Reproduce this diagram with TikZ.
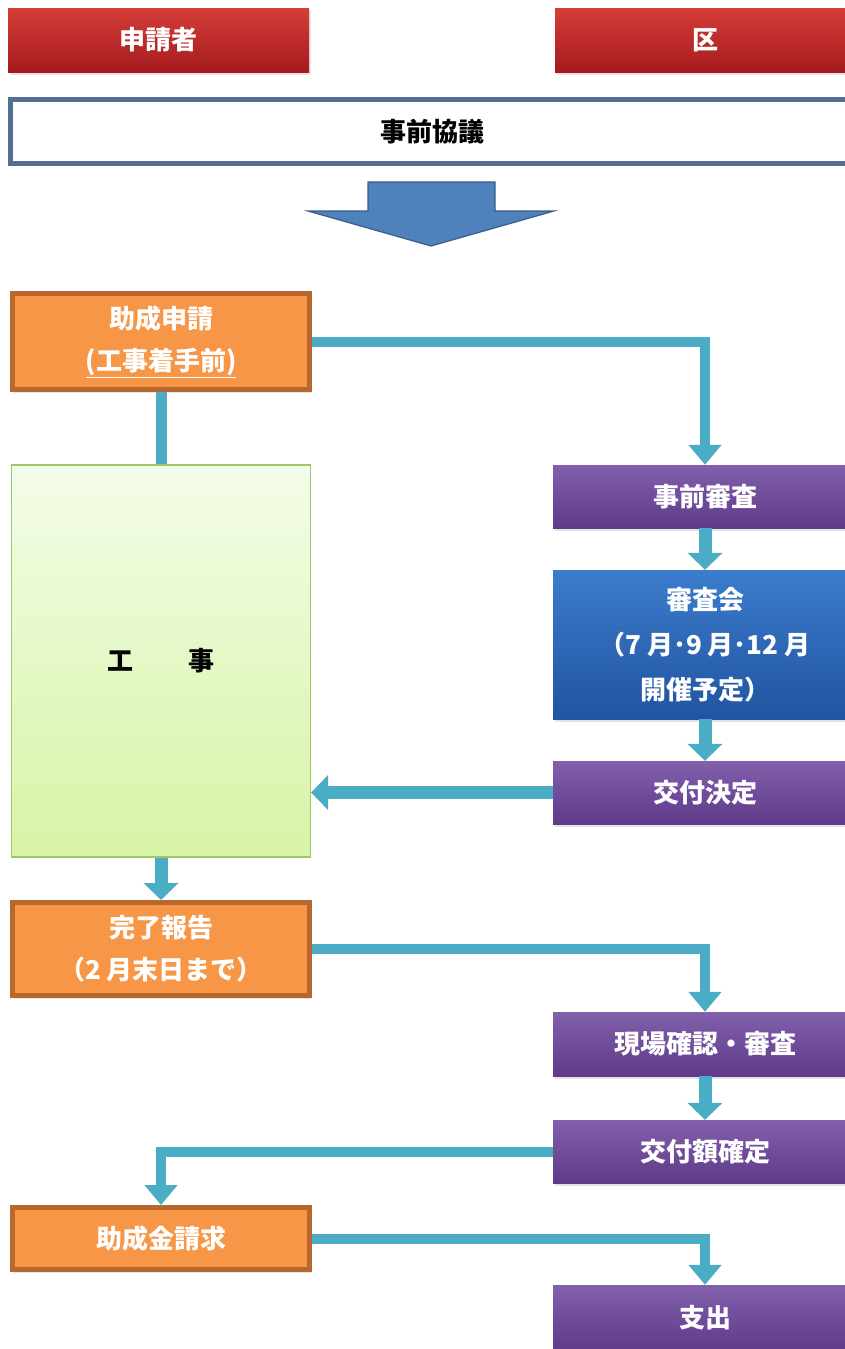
\documentclass[tikz,border=0pt]{standalone}
\usepackage{fontspec}
\setmainfont{Noto Sans CJK JP}
\usetikzlibrary{arrows.meta,shadows}
\definecolor{redtop}{RGB}{212,62,56}
\definecolor{redbot}{RGB}{165,26,30}
\definecolor{orangefill}{RGB}{247,150,70}
\definecolor{orangeline}{RGB}{184,104,44}
\definecolor{purtop}{RGB}{130,96,172}
\definecolor{purbot}{RGB}{94,58,136}
\definecolor{bluetop}{RGB}{60,124,204}
\definecolor{bluebot}{RGB}{32,84,160}
\definecolor{greentop}{RGB}{244,252,232}
\definecolor{greenbot}{RGB}{214,244,166}
\definecolor{greenline}{RGB}{160,198,106}
\definecolor{conncol}{RGB}{75,172,198}
\definecolor{kyogiline}{RGB}{82,112,148}
\definecolor{bigfill}{RGB}{79,129,189}
\definecolor{bigline}{RGB}{56,93,138}
\tikzset{
  shad/.style={drop shadow={shadow xshift=1.5pt,shadow yshift=-3pt,opacity=0.22}},
  lbl/.style={font=\bfseries\fontsize{26}{42}\selectfont, text=white, align=center, inner sep=0pt},
  redbox/.style={lbl, shad, top color=redtop, bottom color=redbot, minimum height=64pt},
  kyogibox/.style={lbl, text=black, draw=kyogiline, line width=5pt, fill=white, minimum height=64pt, minimum width=843pt},
  orangebox/.style={lbl, shad, fill=orangefill, draw=orangeline, line width=5pt, minimum width=297pt},
  greenbox/.style={lbl, text=black, top color=greentop, bottom color=greenbot, draw=greenline, line width=1.2pt, minimum width=299pt, minimum height=392pt},
  purbox/.style={lbl, shad, top color=purtop, bottom color=purbot, minimum width=304pt},
  bluebox/.style={lbl, shad, top color=bluetop, bottom color=bluebot, minimum width=304pt},
  conn/.style={draw=conncol, line width=10pt, -{Triangle[width=32pt,length=20pt]}},
  linkline/.style={draw=conncol, line width=11pt},
  shortarr/.style={draw=conncol, line width=13pt, -{Triangle[width=34pt,length=17pt]}},
}
\begin{document}
\begin{tikzpicture}[x=1pt,y=-1pt]
\clip (0,0) rectangle (845,1349);
\fill[white] (0,0) rectangle (845,1349);
% header
\node[redbox, minimum width=301pt] (applicant) at (158.5,40) {申請者};
\node[redbox, minimum width=300pt] (ku) at (705,40) {区};
\node[kyogibox] (kyogi) at (432,131.5) {事前協議};
% big arrow
\filldraw[fill=bigfill, draw=bigline, line width=1.2pt, line join=miter]
  (368,182) -- (495,182) -- (495,211) -- (554,211) -- (431,246) -- (308,211) -- (368,211) -- cycle;
% left column
\node[orangebox, minimum height=96pt] (josei) at (161,341.5) {助成申請\\\underline{(工事着手前)}};
\node[greenbox] (kouji) at (161,661) {工\hspace{2.1em}事};
\node[orangebox, minimum height=93pt] (kanryo) at (161,949) {完了報告\\（2 月末日まで）};
\node[orangebox, minimum height=62pt] (seikyu) at (161,1238.5) {助成金請求};
% right column
\node[purbox, minimum height=63pt] (jizen) at (705,496.5) {事前審査};
\node[bluebox, minimum height=149pt, font=\bfseries\fontsize{26}{45}\selectfont] (shinsakai) at (705,644.5) {審査会\\（7 月･9 月･12 月\\開催予定）};
\node[purbox, minimum height=63pt] (kofu) at (705,792.5) {交付決定};
\node[purbox, minimum height=64pt] (genba) at (705,1044) {現場確認・審査};
\node[purbox, minimum height=63pt] (kofugaku) at (705,1151.5) {交付額確定};
\node[purbox, minimum height=66pt] (shishutsu) at (705,1318) {支出};
% connectors
\draw[conn] (josei.east) -| (jizen.north);
\draw[linkline] (josei.south) -- (kouji.north);
\draw[shortarr] (jizen.south) -- (shinsakai.north);
\draw[shortarr] (shinsakai.south) -- (kofu.north);
\draw[shortarr] (kofu.west) -- (kofu.west -| kouji.east);
\draw[shortarr] (kouji.south) -- (kanryo.north);
\draw[conn] (kanryo.east) -| (genba.north);
\draw[shortarr] (genba.south) -- (kofugaku.north);
\draw[conn] (kofugaku.west) -| (seikyu.north);
\draw[conn] (seikyu.east) -| (shishutsu.north);
\end{tikzpicture}
\end{document}
